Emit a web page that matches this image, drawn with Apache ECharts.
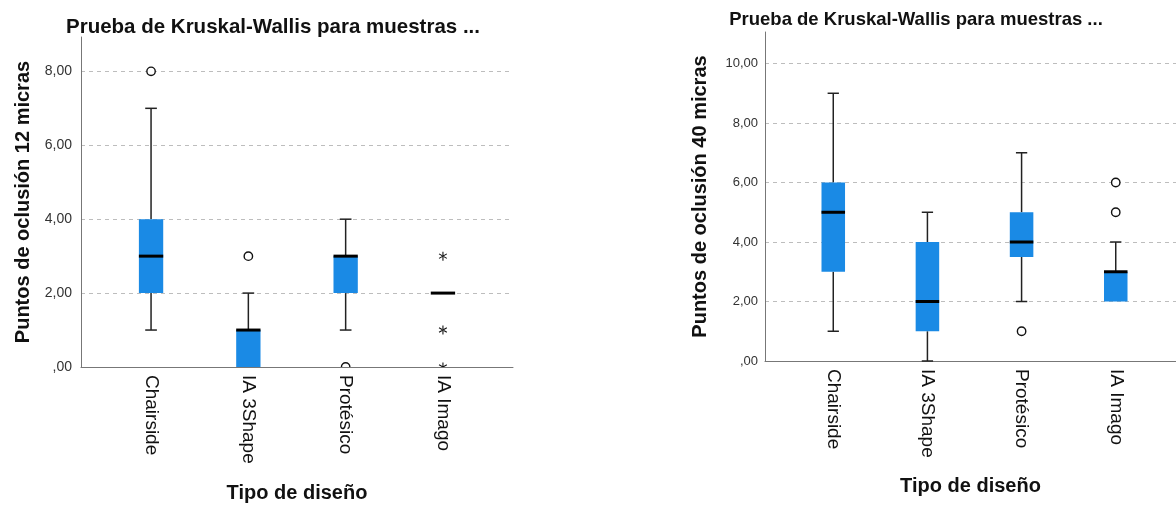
<!DOCTYPE html>
<html>
<head>
<meta charset="utf-8">
<script src="https://cdn.jsdelivr.net/npm/echarts@6/dist/echarts.min.js"></script>
<style>html,body{margin:0;padding:0;background:#fff}#c{width:1176px;height:508px}</style>
</head>
<body>
<div id="c"></div>
<script>
// ---- data ----
const categories = ['Chairside', 'IA 3Shape', 'Protésico', 'IA Imago'];
const titleText = 'Prueba de Kruskal-Wallis para muestras ...';
const xName = 'Tipo de diseño';
const yName12 = 'Puntos de oclusión 12 micras';
const yName40 = 'Puntos de oclusión 40 micras';
// [min, Q1, median, Q3, max] per category
const box12 = [[1, 2, 3, 4, 7], [0, 0, 1, 1, 2], [1, 2, 3, 3, 4], [2, 2, 2, 2, 2]];
const box40 = [[1, 3, 5, 6, 9], [0, 1, 2, 4, 5], [2, 3.5, 4, 5, 7], [2, 2, 3, 3, 4]];
// outliers: [categoryIndex, value]
const outliers12 = [[0, 8], [1, 3], [2, 0]];
const extremes12 = [[3, 3], [3, 1], [3, 0]];
const outliers40 = [[2, 1], [3, 5], [3, 6]];

// ---- helpers ----
const BOX_COLOR = '#1a8ae5';
const STAR_PATH = 'M44,0L56,0L56,100L44,100Z M3.7,30.2L90.3,80.2L96.3,69.8L9.7,19.8Z M96.3,30.2L9.7,80.2L3.7,69.8L90.3,19.8Z';
const font = 'Liberation Sans, Arial, Helvetica, sans-serif';

function boxData(arr) { return arr.map((d, i) => [i + 1].concat(d)); }
function ptData(arr) { return arr.map(d => [d[0] + 1, d[1]]); }

function renderBox(params, api) {
  const x = api.value(0);
  const lo = api.coord([x, api.value(1)]);
  const q1 = api.coord([x, api.value(2)]);
  const med = api.coord([x, api.value(3)]);
  const q3 = api.coord([x, api.value(4)]);
  const hi = api.coord([x, api.value(5)]);
  const band = api.size([1, 0])[0];
  const bw = band * 0.25, cw = band * 0.12;
  const cx = med[0];
  const ls = { stroke: '#222', lineWidth: 1.5 };
  const children = [];
  if (api.value(5) > api.value(4)) {
    children.push({ type: 'line', shape: { x1: cx, y1: q3[1], x2: cx, y2: hi[1] }, style: ls });
    children.push({ type: 'line', shape: { x1: cx - cw / 2, y1: hi[1], x2: cx + cw / 2, y2: hi[1] }, style: ls });
  }
  if (api.value(1) < api.value(2)) {
    children.push({ type: 'line', shape: { x1: cx, y1: q1[1], x2: cx, y2: lo[1] }, style: ls });
    children.push({ type: 'line', shape: { x1: cx - cw / 2, y1: lo[1], x2: cx + cw / 2, y2: lo[1] }, style: ls });
  }
  children.push({ type: 'rect', shape: { x: cx - bw / 2, y: q3[1], width: bw, height: q1[1] - q3[1] }, style: { fill: BOX_COLOR } });
  children.push({ type: 'line', shape: { x1: cx - bw / 2, y1: med[1], x2: cx + bw / 2, y2: med[1] }, style: { stroke: '#000', lineWidth: 3 } });
  return { type: 'group', children };
}
function renderCircle(params, api) {
  const p = api.coord([api.value(0), api.value(1)]);
  return { type: 'circle', shape: { cx: p[0], cy: p[1], r: 4.2 }, style: { fill: '#fff', stroke: '#111', lineWidth: 1.4 } };
}
function renderStar(params, api) {
  const p = api.coord([api.value(0), api.value(1)]);
  const s = 9;
  return { type: 'path', shape: { pathData: STAR_PATH, x: p[0] - s / 2, y: p[1] - s / 2, width: s, height: s }, style: { fill: '#111' } };
}

function yFmt(v) {
  if (Math.abs(v / 2 - Math.round(v / 2)) > 1e-6) return '';
  if (v === 0) return ',00';
  return v.toFixed(2).replace('.', ',');
}
function xFmt(v) {
  const r = Math.round(v);
  if (Math.abs(v - r) > 1e-6 || r < 1 || r > categories.length) return '';
  return categories[r - 1];
}

function xAxisCfg(gi, min, max, gap) {
  return {
    gridIndex: gi, type: 'value', min, max, minInterval: 1, maxInterval: 1,
    name: xName, nameLocation: 'middle', nameGap: gap,
    nameTextStyle: { fontFamily: font, fontSize: 20, fontWeight: 'bold', color: '#111' },
    axisLine: { show: true, onZero: false, lineStyle: { color: '#777', width: 1 } },
    axisTick: { show: false }, splitLine: { show: false },
    axisLabel: { rotate: -90, margin: 8, fontFamily: font, fontSize: 19, color: '#111', formatter: xFmt, showMinLabel: true, showMaxLabel: true, hideOverlap: false }
  };
}
function yAxisCfg(gi, max, name, gap, fs, margin) {
  return {
    gridIndex: gi, type: 'value', min: 0, max, interval: 2,
    name, nameLocation: 'middle', nameGap: gap,
    nameTextStyle: { fontFamily: font, fontSize: 20, fontWeight: 'bold', color: '#111' },
    axisLine: { show: true, lineStyle: { color: '#777', width: 1 } },
    axisTick: { show: false },
    splitLine: { show: true, showMinLine: false, showMaxLine: false, lineStyle: { color: '#bdbdbd', type: [4, 4], width: 1 } },
    axisLabel: { margin, fontFamily: font, fontSize: fs, color: '#333', formatter: yFmt }
  };
}
function pointSeries(gi, data, render) {
  return { type: 'custom', xAxisIndex: gi, yAxisIndex: gi, clip: true, renderItem: render, data: ptData(data), encode: { x: 0, y: 1 }, z: 5 };
}

const chart = echarts.init(document.getElementById('c'), null, { renderer: 'canvas' });
chart.setOption({
  animation: false,
  backgroundColor: '#fff',
  title: [
    { text: titleText, left: 268, top: 12, textAlign: 'center', textStyle: { fontFamily: font, fontSize: 20.5, fontWeight: 'bold', color: '#111' } },
    { text: titleText, left: 911, top: 5, textAlign: 'center', textStyle: { fontFamily: font, fontSize: 18.5, fontWeight: 'bold', color: '#111' } }
  ],
  grid: [
    { left: 81, top: 37, right: 663, bottom: 136 },
    { left: 765, top: 32, right: 0, bottom: 147 }
  ],
  xAxis: [xAxisCfg(0, 0.28, 4.72, 116), xAxisCfg(1, 0.275, 4.64, 115)],
  yAxis: [yAxisCfg(0, 8.93, yName12, 48, 14, 9), yAxisCfg(1, 11.06, yName40, 55, 13, 7)],
  series: [
    { type: 'custom', xAxisIndex: 0, yAxisIndex: 0, renderItem: renderBox, data: boxData(box12), encode: { x: 0, y: [1, 2, 3, 4, 5] } },
    { type: 'custom', xAxisIndex: 1, yAxisIndex: 1, renderItem: renderBox, data: boxData(box40), encode: { x: 0, y: [1, 2, 3, 4, 5] } },
    pointSeries(0, outliers12, renderCircle),
    pointSeries(0, extremes12, renderStar),
    pointSeries(1, outliers40, renderCircle)
  ]
});
</script>
</body>
</html>
